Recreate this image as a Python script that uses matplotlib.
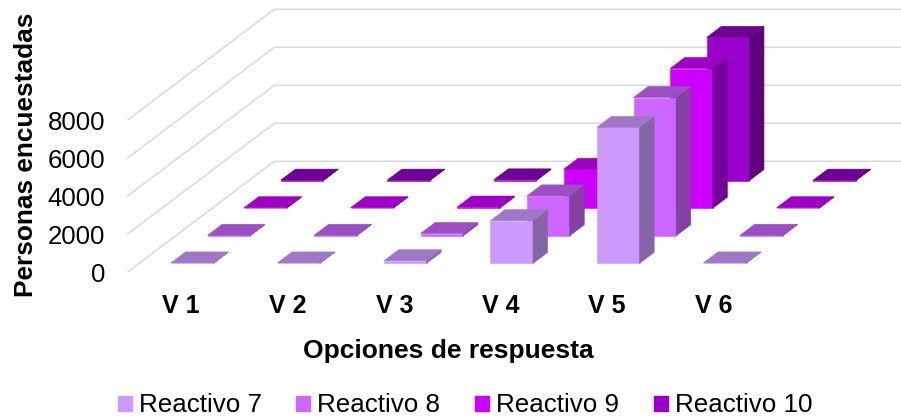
import matplotlib
matplotlib.use('Agg')
import matplotlib.pyplot as plt
from matplotlib.patches import Patch

plt.rcParams['font.family'] = ['Liberation Sans', 'DejaVu Sans']

categorias = ['V 1', 'V 2', 'V 3', 'V 4', 'V 5', 'V 6']
reactivo_7 = [25, 25, 140, 2250, 7160, 25]
reactivo_8 = [25, 25, 120, 2100, 7280, 25]
reactivo_9 = [25, 25, 60, 2050, 7350, 25]
reactivo_10 = [25, 25, 40, 2000, 7540, 25]
series = [reactivo_7, reactivo_8, reactivo_9, reactivo_10]
nombres = ['Reactivo 7', 'Reactivo 8', 'Reactivo 9', 'Reactivo 10']
y_ticks = [0, 2000, 4000, 6000, 8000]

# colores por serie: frente, tapa, lado
frente = ['#CC99FF', '#CC66FF', '#CC00FF', '#9900CC']
tapa = ['#9F77C6', '#9C4FC2', '#9C00C2', '#6F0094']
lado = ['#8466A6', '#8440A3', '#74009A', '#5F007F']

# proyeccion oblicua, en pixeles de la imagen
X0, Y0 = 128, 271.7
PASO_CAT = 106.5
PASO_X, PASO_Y = 36.6, -27.6
ESCALA = 38 / 2000


def proj(u, v, z=0):
    return X0 + u * PASO_CAT + v * PASO_X, Y0 + v * PASO_Y - z * ESCALA


def cara(ax, puntos, color, zorder):
    xs, ys = zip(*[proj(*p) for p in puntos])
    ax.fill(xs, ys, color=color, lw=0.4, zorder=zorder)


fig = plt.figure(figsize=(9.01, 4.18), dpi=100)
ax = fig.add_axes([0, 0, 1, 1])
ax.set_xlim(0, 901)
ax.set_ylim(418, 0)
ax.axis('off')

# rejilla: pared de fondo y piso lateral
for t in y_ticks:
    xs, ys = zip(proj(0, 0, t), proj(0, 4, t), proj(6, 4, t))
    ax.plot(xs, ys, color='#D9D9D9', lw=1.1, zorder=1, solid_joinstyle='miter')
    ax.text(105, proj(0, 0, t)[1] + 10, str(t), ha='right', va='baseline', fontsize=18.6)

# barras, de atras hacia adelante
a, b = 0.3, 0.7
for fila in range(len(series) - 1, -1, -1):
    z0 = 10 + (3 - fila) * 10
    for i, valor in enumerate(series[fila]):
        u0, u1 = i + a, i + b
        v0, v1 = fila + a, fila + b
        cara(ax, [(u0, v0, 0), (u1, v0, 0), (u1, v0, valor), (u0, v0, valor)], frente[fila], z0)
        cara(ax, [(u1, v0, 0), (u1, v1, 0), (u1, v1, valor), (u1, v0, valor)], lado[fila], z0)
        cara(ax, [(u0, v0, valor), (u1, v0, valor), (u1, v1, valor), (u0, v1, valor)], tapa[fila], z0)

for i, nombre in enumerate(categorias):
    ax.text(proj(i + 0.5, 0)[0], 313, nombre, ha='center', va='baseline', fontsize=18, fontweight='bold')

ax.text(33, 155, 'Personas encuestadas', rotation=90, ha='center', va='baseline',
        rotation_mode='anchor', fontsize=18.9, fontweight='bold')
ax.text(448, 358, 'Opciones de respuesta', ha='center', va='baseline', fontsize=19, fontweight='bold')

handles = [Patch(color=c, label=n) for c, n in zip(frente, nombres)]
ax.legend(handles=handles, loc='center', bbox_to_anchor=(465 / 901, 1 - 405.5 / 418), ncol=4,
          frameon=False, fontsize=18.7, handlelength=0.54, handleheight=0.54,
          handletextpad=0.27, columnspacing=1.33, borderpad=0)

fig.savefig('out.png', dpi=100)
